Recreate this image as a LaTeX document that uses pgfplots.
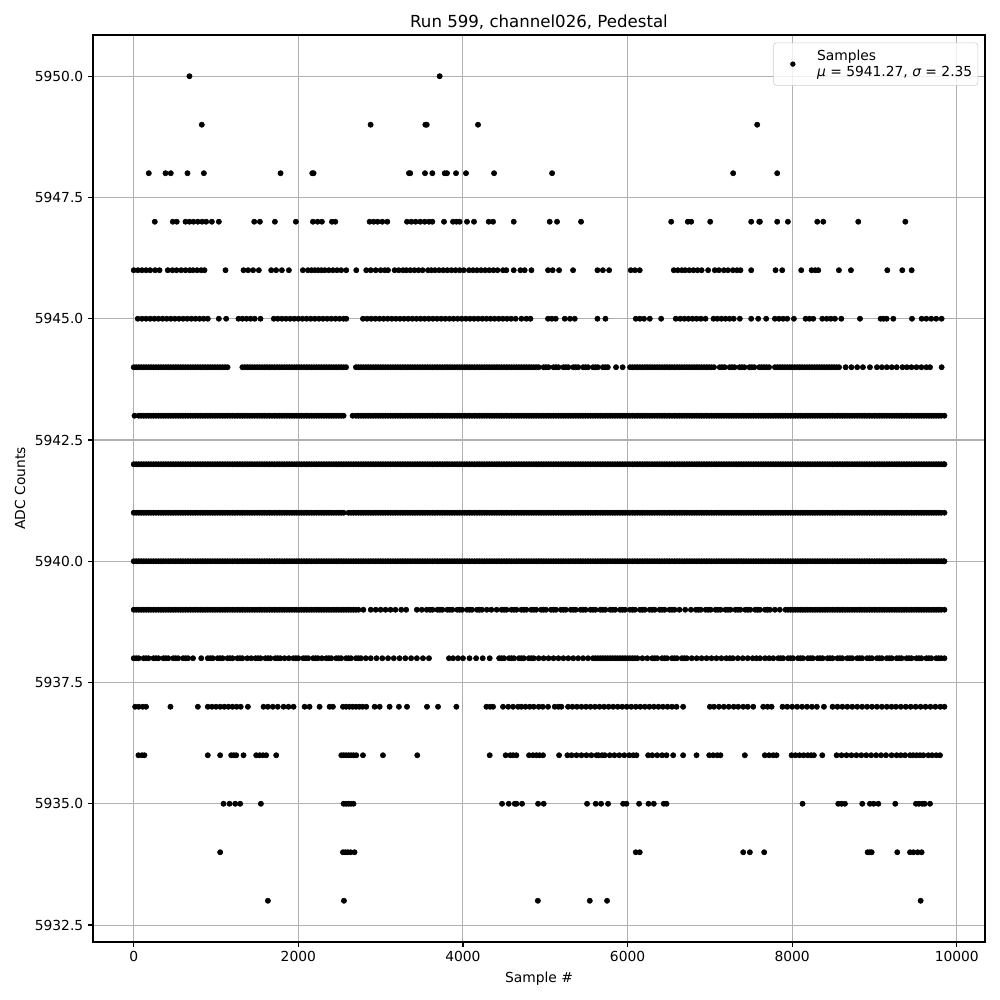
\documentclass[border=0pt]{standalone}
\usepackage{fontspec}
\setmainfont{DejaVu Sans}
\usepackage{pgfplots}
\pgfplotsset{compat=1.18}
\definecolor{gridgray}{HTML}{B0B0B0}
\definecolor{legframe}{HTML}{CCCCCC}
\pgfplotsset{samp/.style={only marks, mark=*, mark size=1.9pt, black, mark options={draw=black, fill=black}}}

\begin{document}
\begin{tikzpicture}
\begin{axis}[
  scale only axis,
  width=644.65pt, height=655.49pt,
  xmin=-495, xmax=10343,
  ymin=5932.15, ymax=5950.85,
  xtick={0,2000,4000,6000,8000,10000},
  ytick={5932.5,5935,5937.5,5940,5942.5,5945,5947.5,5950},
  scaled ticks=false,
  /pgf/number format/1000 sep={},
  /pgf/number format/assume math mode=true,
  yticklabel style={/pgf/number format/.cd, fixed, fixed zerofill, precision=1},
  xticklabel style={/pgf/number format/.cd, fixed, precision=0},
  tick label style={font=\fontsize{10}{12}\selectfont},
  label style={font=\fontsize{10}{12}\selectfont},
  title style={font=\fontsize{12}{14}\selectfont, yshift=-5.5pt},
  title={Run 599, channel026, Pedestal},
  xlabel={Sample \#},
  ylabel={ADC Counts},
  grid=major,
  major grid style={gridgray, line width=0.75pt},
  axis line style={line width=0.8pt},
  tick align=outside,
  xtick pos=left, ytick pos=left,
  major tick length=3.5pt,
  tick style={black, line width=0.8pt},
  legend image code/.code={
    \path (0pt,0pt) (27pt,0pt);
    \draw[#1, mark size=1.7pt, fill opacity=1, draw opacity=1] plot coordinates {(11.7pt,0pt)};
  },
  legend style={at={(1,1)}, anchor=north east, xshift=-5pt, yshift=-5.5pt,
    draw=legframe, rounded corners=2pt, fill=white, fill opacity=0.8, text opacity=1,
    font=\fontsize{10}{11.6}\selectfont, inner xsep=2pt, inner ysep=3pt,
    cells={align=left, anchor=west}},
]
% 5950 .. 5947
\addplot[samp, forget plot] coordinates {(677,5950)(3717,5950)};
\addplot[samp, forget plot] coordinates {(827,5949)(2878,5949)(3543,5949)(3560,5949)(4183,5949)(7575,5949)};
\addplot[samp, forget plot] coordinates {
(183,5948)(386,5948)(450,5948)(653,5948)(852,5948)(1784,5948)(2169,5948)(2185,5948)
(3344,5948)(3360,5948)(3539,5948)(3628,5948)(3778,5948)(3806,5948)(3916,5948)(4037,5948)
(4378,5948)(5083,5948)(7283,5948)(7818,5948)};
\addplot[samp, forget plot] coordinates {
(256,5947)(475,5947)(523,5947)(629,5947)(677,5947)(726,5947)(779,5947)(831,5947)(880,5947)
(949,5947)(1034,5947)(1464,5947)(1533,5947)(1715,5947)(1970,5947)(2177,5947)(2234,5947)
(2286,5947)(2408,5947)(2449,5947)(2866,5947)(2915,5947)(2963,5947)(3020,5947)(3081,5947)
(3320,5947)(3373,5947)(3425,5947)(3482,5947)(3535,5947)(3587,5947)(3628,5947)(3770,5947)
(3879,5947)(3920,5947)(3960,5947)(4049,5947)(4134,5947)(4313,5947)(4366,5947)(4617,5947)
(5054,5947)(5143,5947)(5435,5947)(6530,5947)(6732,5947)(6773,5947)(7004,5947)(7502,5947)
(7600,5947)(7608,5947)(7818,5947)(7948,5947)(8305,5947)(8378,5947)(8803,5947)(9375,5947)};
% 5946
\addplot[samp, forget plot] coordinates {
(0,5946)(50,5946)(100,5946)(150,5946)(200,5946)(260,5946)(313,5946)
(414,5946)(470,5946)(520,5946)(576,5946)
(629,5946)(680,5946)(720,5946)(770,5946)(820,5946)(860,5946)(1115,5946)
(1334,5946)(1390,5946)(1450,5946)(1520,5946)(1670,5946)(1730,5946)(1800,5946)(1885,5946)
(2055,5946)(2116,5946)(2160,5946)(2200,5946)(2240,5946)(2280,5946)(2320,5946)(2370,5946)
(2420,5946)(2470,5946)(2520,5946)(2582,5946)(2704,5946)
(2825,5946)(2880,5946)(2940,5946)(3000,5946)(3050,5946)(3089,5946)(3170,5946)(3220,5946)(3271,5946)
(3312,5946)(3360,5946)(3410,5946)(3460,5946)(3510,5946)(3575,5946)
(3616,5946)(3660,5946)(3710,5946)(3760,5946)(3810,5946)(3860,5946)(3910,5946)(3960,5946)(4010,5946)(4074,5946)
(4122,5946)(4170,5946)(4220,5946)(4270,5946)(4320,5946)(4370,5946)(4420,5946)(4487,5946)
(4527,5946)(4617,5946)(4698,5946)(4750,5946)(4832,5946)
(5034,5946)(5090,5946)(5168,5946)(5338,5946)(5634,5946)(5700,5946)(5776,5946)
(6039,5946)(6090,5946)(6148,5946)
(6562,5946)(6610,5946)(6660,5946)(6700,5946)(6750,5946)(6800,5946)(6850,5946)(6900,5946)(6979,5946)
(7060,5946)(7110,5946)(7170,5946)(7220,5946)(7280,5946)(7330,5946)(7372,5946)(7502,5946)
(7798,5946)(7879,5946)(8110,5946)(8236,5946)(8280,5946)(8317,5946)(8568,5946)(8714,5946)
(9156,5946)(9338,5946)(9452,5946)};
% 5945
\addplot[samp, forget plot] coordinates {
(49,5945)(100,5945)(150,5945)(200,5945)(250,5945)(300,5945)(350,5945)(400,5945)(450,5945)
(500,5945)(550,5945)(600,5945)(650,5945)(700,5945)(750,5945)(800,5945)(850,5945)(900,5945)
(1034,5945)(1123,5945)(1273,5945)(1320,5945)(1370,5945)(1420,5945)(1470,5945)(1540,5945)
(1702,5945)(1750,5945)(1800,5945)(1850,5945)(1900,5945)(1950,5945)(2000,5945)(2050,5945)
(2100,5945)(2150,5945)(2200,5945)(2250,5945)(2300,5945)(2350,5945)(2400,5945)(2450,5945)
(2500,5945)(2550,5945)(2582,5945)
(2785,5945)(2835,5945)(2885,5945)(2935,5945)(2985,5945)(3035,5945)(3085,5945)(3135,5945)
(3185,5945)(3235,5945)(3285,5945)(3335,5945)(3385,5945)(3435,5945)(3485,5945)(3535,5945)
(3585,5945)(3635,5945)(3685,5945)(3735,5945)(3785,5945)(3835,5945)(3885,5945)(3935,5945)
(3985,5945)(4035,5945)(4085,5945)(4135,5945)(4185,5945)(4235,5945)(4285,5945)(4335,5945)
(4385,5945)(4435,5945)(4485,5945)(4535,5945)(4585,5945)(4640,5945)
(4710,5945)(4770,5945)(4820,5945)(5034,5945)(5080,5945)(5127,5945)(5237,5945)(5300,5945)(5358,5945)
(5634,5945)(5731,5945)(6100,5945)(6150,5945)(6200,5945)(6270,5945)(6408,5945)
(6586,5945)(6640,5945)(6690,5945)(6740,5945)(6790,5945)(6840,5945)(6890,5945)(6947,5945)
(7044,5945)(7090,5945)(7140,5945)(7190,5945)(7240,5945)(7290,5945)(7364,5945)
(7502,5945)(7587,5945)(7684,5945)(7790,5945)(7840,5945)(7890,5945)(7940,5945)(8021,5945)
(8163,5945)(8210,5945)(8256,5945)(8366,5945)(8420,5945)(8470,5945)(8520,5945)(8597,5945)
(8824,5945)(9075,5945)(9110,5945)(9148,5945)(9229,5945)(9456,5945)
(9573,5945)(9630,5945)(9690,5945)(9750,5945)(9816,5945)};
% 5944
\addplot[samp, forget plot] coordinates {
(0,5944)(60,5944)(120,5944)(180,5944)(240,5944)(300,5944)(360,5944)(420,5944)(480,5944)
(540,5944)(600,5944)(660,5944)(720,5944)(780,5944)(840,5944)(900,5944)(960,5944)(1020,5944)
(1080,5944)(1140,5944)
(1320,5944)(1380,5944)(1440,5944)(1500,5944)(1560,5944)(1620,5944)(1680,5944)(1740,5944)
(1800,5944)(1860,5944)(1920,5944)(1980,5944)(2040,5944)(2100,5944)(2160,5944)(2220,5944)
(2280,5944)(2340,5944)(2400,5944)(2460,5944)(2520,5944)(2580,5944)
(2700,5944)(2760,5944)(2820,5944)(2880,5944)(2940,5944)(3000,5944)(3060,5944)(3120,5944)
(3180,5944)(3240,5944)(3300,5944)(3360,5944)(3420,5944)(3480,5944)(3540,5944)(3600,5944)
(3660,5944)(3720,5944)(3780,5944)(3840,5944)(3900,5944)(3960,5944)(4020,5944)(4080,5944)
(4140,5944)(4200,5944)(4260,5944)(4320,5944)(4380,5944)(4440,5944)(4500,5944)(4560,5944)
(4620,5944)(4680,5944)(4740,5944)(4800,5944)(4860,5944)(4920,5944)(4980,5944)(5040,5944)
(5100,5944)(5160,5944)(5220,5944)(5280,5944)(5340,5944)(5400,5944)(5460,5944)(5520,5944)
(5580,5944)(5640,5944)(5700,5944)(5760,5944)(5860,5944)(5940,5944)
(6030,5944)(6090,5944)(6150,5944)(6210,5944)(6270,5944)(6330,5944)(6390,5944)(6450,5944)
(6510,5944)(6570,5944)(6630,5944)(6690,5944)(6750,5944)(6810,5944)(6870,5944)(6930,5944)
(6990,5944)(7050,5944)
(7120,5944)(7180,5944)(7240,5944)(7300,5944)(7360,5944)(7420,5944)(7480,5944)(7540,5944)
(7600,5944)(7660,5944)(7720,5944)
(7790,5944)(7850,5944)(7910,5944)(7970,5944)(8030,5944)(8090,5944)(8150,5944)(8210,5944)
(8270,5944)(8330,5944)(8390,5944)(8450,5944)(8510,5944)(8570,5944)(8650,5944)(8720,5944)
(8790,5944)(8860,5944)(8945,5944)
(9030,5944)(9090,5944)(9150,5944)(9210,5944)(9270,5944)(9340,5944)
(9395,5944)(9450,5944)(9510,5944)(9570,5944)(9630,5944)(9675,5944)(9816,5944)};
\addplot[samp, forget plot] coordinates {
(30,5944)(90,5944)(150,5944)(210,5944)(270,5944)(330,5944)(390,5944)(450,5944)(510,5944)
(570,5944)(630,5944)(690,5944)(750,5944)(810,5944)(870,5944)(930,5944)(990,5944)(1050,5944)
(1110,5944)(1350,5944)(1410,5944)(1470,5944)(1530,5944)(1590,5944)(1650,5944)(1710,5944)
(1770,5944)(1830,5944)(1890,5944)(1950,5944)(2010,5944)(2070,5944)(2130,5944)(2190,5944)
(2250,5944)(2310,5944)(2370,5944)(2430,5944)(2490,5944)(2550,5944)
(2730,5944)(2790,5944)(2850,5944)(2910,5944)(2970,5944)(3030,5944)(3090,5944)(3150,5944)
(3210,5944)(3270,5944)(3330,5944)(3390,5944)(3450,5944)(3510,5944)(3570,5944)(3630,5944)
(3690,5944)(3750,5944)(3810,5944)(3870,5944)(3930,5944)(3990,5944)(4050,5944)(4110,5944)
(4170,5944)(4230,5944)(4290,5944)(4350,5944)(4410,5944)(4470,5944)(4530,5944)(4590,5944)
(4650,5944)(4710,5944)(4770,5944)(4830,5944)(4890,5944)(5010,5944)(5130,5944)(5250,5944)
(5370,5944)(5490,5944)(5610,5944)(5730,5944)
(6060,5944)(6120,5944)(6180,5944)(6240,5944)(6300,5944)(6360,5944)(6420,5944)(6480,5944)
(6540,5944)(6600,5944)(6660,5944)(6720,5944)(6780,5944)(6840,5944)(6900,5944)(6960,5944)
(7020,5944)(7150,5944)(7270,5944)(7390,5944)(7510,5944)(7630,5944)(7690,5944)
(7820,5944)(7880,5944)(7940,5944)(8000,5944)(8060,5944)(8120,5944)(8180,5944)(8240,5944)
(8300,5944)(8360,5944)(8420,5944)(8480,5944)(8540,5944)};
% 5943
\addplot[samp, forget plot] coordinates {
(10,5943)(90,5943)(150,5943)(210,5943)(270,5943)(330,5943)(390,5943)(450,5943)(510,5943)
(570,5943)(630,5943)(690,5943)(750,5943)(810,5943)(870,5943)(930,5943)(990,5943)(1050,5943)
(1110,5943)(1170,5943)(1230,5943)(1290,5943)(1350,5943)(1410,5943)(1470,5943)(1530,5943)
(1590,5943)(1650,5943)(1710,5943)(1770,5943)(1830,5943)(1890,5943)(1950,5943)(2010,5943)
(2070,5943)(2130,5943)(2190,5943)(2250,5943)(2310,5943)(2370,5943)(2430,5943)(2490,5943)
(2550,5943)
(2660,5943)(2730,5943)(2790,5943)(2850,5943)(2910,5943)(2970,5943)(3030,5943)(3090,5943)
(3150,5943)(3210,5943)(3270,5943)(3330,5943)(3390,5943)(3450,5943)(3510,5943)(3570,5943)
(3630,5943)(3690,5943)(3750,5943)(3810,5943)(3870,5943)(3930,5943)(3990,5943)(4050,5943)
(4110,5943)(4170,5943)(4230,5943)(4290,5943)(4350,5943)(4410,5943)(4470,5943)(4530,5943)
(4590,5943)(4650,5943)(4710,5943)(4770,5943)(4830,5943)(4890,5943)(4950,5943)(5010,5943)
(5070,5943)(5130,5943)(5190,5943)(5250,5943)(5310,5943)(5370,5943)(5430,5943)(5490,5943)
(5550,5943)(5610,5943)(5670,5943)(5730,5943)(5790,5943)(5850,5943)(5910,5943)(5970,5943)
(6030,5943)(6090,5943)(6150,5943)(6210,5943)(6270,5943)(6330,5943)(6390,5943)(6450,5943)
(6510,5943)(6570,5943)(6630,5943)(6690,5943)(6750,5943)(6810,5943)(6870,5943)(6930,5943)
(6990,5943)(7050,5943)(7110,5943)(7170,5943)(7230,5943)(7290,5943)(7350,5943)(7410,5943)
(7470,5943)(7530,5943)(7590,5943)(7650,5943)(7710,5943)(7770,5943)(7830,5943)(7890,5943)
(7950,5943)(8010,5943)(8070,5943)(8130,5943)(8190,5943)(8250,5943)(8310,5943)(8370,5943)
(8430,5943)(8490,5943)(8550,5943)(8610,5943)(8670,5943)(8730,5943)(8790,5943)(8850,5943)
(8910,5943)(8970,5943)(9030,5943)(9090,5943)(9150,5943)(9210,5943)(9270,5943)(9330,5943)
(9390,5943)(9450,5943)(9510,5943)(9570,5943)(9630,5943)(9690,5943)(9750,5943)(9810,5943)
(9850,5943)};
\addplot[samp, forget plot] coordinates {
(60,5943)(120,5943)(180,5943)(240,5943)(300,5943)(360,5943)(420,5943)(480,5943)
(540,5943)(600,5943)(660,5943)(720,5943)(780,5943)(840,5943)(900,5943)(960,5943)(1020,5943)
(1080,5943)(1140,5943)(1200,5943)(1260,5943)(1320,5943)(1380,5943)(1440,5943)(1500,5943)
(1560,5943)(1620,5943)(1680,5943)(1740,5943)(1800,5943)(1860,5943)(1920,5943)(1980,5943)
(2040,5943)(2100,5943)(2160,5943)(2220,5943)(2280,5943)(2340,5943)(2400,5943)(2460,5943)
(2520,5943)(2700,5943)(2760,5943)(2820,5943)(2880,5943)(2940,5943)
(3000,5943)(3060,5943)(3120,5943)(3180,5943)(3240,5943)(3300,5943)(3360,5943)(3420,5943)
(3480,5943)(3540,5943)(3600,5943)(3660,5943)(3720,5943)(3780,5943)(3840,5943)(3900,5943)
(3960,5943)(4020,5943)(4080,5943)(4140,5943)(4200,5943)(4260,5943)(4320,5943)(4380,5943)
(4440,5943)(4500,5943)(4560,5943)(4620,5943)(4680,5943)(4740,5943)(4800,5943)(4860,5943)
(4920,5943)(4980,5943)(5040,5943)(5100,5943)(5160,5943)(5220,5943)(5280,5943)(5340,5943)
(5400,5943)(5460,5943)(5520,5943)(5580,5943)(5640,5943)(5700,5943)(5760,5943)(5820,5943)
(5880,5943)(5940,5943)(6000,5943)(6060,5943)(6120,5943)(6180,5943)(6240,5943)(6300,5943)
(6360,5943)(6420,5943)(6480,5943)(6540,5943)(6600,5943)(6660,5943)(6720,5943)(6780,5943)
(6840,5943)(6900,5943)(6960,5943)(7020,5943)(7080,5943)(7140,5943)(7200,5943)(7260,5943)
(7320,5943)(7380,5943)(7440,5943)(7500,5943)(7560,5943)(7620,5943)(7680,5943)(7740,5943)
(7800,5943)(7860,5943)(7920,5943)(7980,5943)(8040,5943)(8100,5943)(8160,5943)(8220,5943)
(8280,5943)(8340,5943)(8400,5943)(8460,5943)(8520,5943)(8580,5943)(8640,5943)(8700,5943)
(8760,5943)(8820,5943)(8880,5943)(8940,5943)(9000,5943)(9060,5943)(9120,5943)(9180,5943)
(9240,5943)(9300,5943)(9360,5943)(9420,5943)(9480,5943)(9540,5943)(9600,5943)(9660,5943)
(9720,5943)(9780,5943)};
% 5942
\addplot[samp, forget plot] coordinates {
(0,5942)(60,5942)(120,5942)(180,5942)(240,5942)(300,5942)(360,5942)(420,5942)(480,5942)
(540,5942)(600,5942)(660,5942)(720,5942)(780,5942)(840,5942)(900,5942)(960,5942)(1020,5942)
(1080,5942)(1140,5942)(1200,5942)(1260,5942)(1320,5942)(1380,5942)(1440,5942)(1500,5942)
(1560,5942)(1620,5942)(1680,5942)(1740,5942)(1800,5942)(1860,5942)(1920,5942)(1980,5942)
(2040,5942)(2100,5942)(2160,5942)(2220,5942)(2280,5942)(2340,5942)(2400,5942)(2460,5942)
(2520,5942)(2580,5942)(2640,5942)(2700,5942)(2760,5942)(2820,5942)(2880,5942)(2940,5942)
(3000,5942)(3060,5942)(3120,5942)(3180,5942)(3240,5942)(3300,5942)(3360,5942)(3420,5942)
(3480,5942)(3540,5942)(3600,5942)(3660,5942)(3720,5942)(3780,5942)(3840,5942)(3900,5942)
(3960,5942)(4020,5942)(4080,5942)(4140,5942)(4200,5942)(4260,5942)(4320,5942)(4380,5942)
(4440,5942)(4500,5942)(4560,5942)(4620,5942)(4680,5942)(4740,5942)(4800,5942)(4860,5942)
(4920,5942)(4980,5942)(5040,5942)(5100,5942)(5160,5942)(5220,5942)(5280,5942)(5340,5942)
(5400,5942)(5460,5942)(5520,5942)(5580,5942)(5640,5942)(5700,5942)(5760,5942)(5820,5942)
(5880,5942)(5940,5942)(6000,5942)(6060,5942)(6120,5942)(6180,5942)(6240,5942)(6300,5942)
(6360,5942)(6420,5942)(6480,5942)(6540,5942)(6600,5942)(6660,5942)(6720,5942)(6780,5942)
(6840,5942)(6900,5942)(6960,5942)(7020,5942)(7080,5942)(7140,5942)(7200,5942)(7260,5942)
(7320,5942)(7380,5942)(7440,5942)(7500,5942)(7560,5942)(7620,5942)(7680,5942)(7740,5942)
(7800,5942)(7860,5942)(7920,5942)(7980,5942)(8040,5942)(8100,5942)(8160,5942)(8220,5942)
(8280,5942)(8340,5942)(8400,5942)(8460,5942)(8520,5942)(8580,5942)(8640,5942)(8700,5942)
(8760,5942)(8820,5942)(8880,5942)(8940,5942)(9000,5942)(9060,5942)(9120,5942)(9180,5942)
(9240,5942)(9300,5942)(9360,5942)(9420,5942)(9480,5942)(9540,5942)(9600,5942)(9660,5942)
(9720,5942)(9780,5942)(9840,5942)};
\addplot[samp, forget plot] coordinates {
(30,5942)(90,5942)(150,5942)(210,5942)(270,5942)(330,5942)(390,5942)(450,5942)(510,5942)
(570,5942)(630,5942)(690,5942)(750,5942)(810,5942)(870,5942)(930,5942)(990,5942)(1050,5942)
(1110,5942)(1170,5942)(1230,5942)(1290,5942)(1350,5942)(1410,5942)(1470,5942)(1530,5942)
(1590,5942)(1650,5942)(1710,5942)(1770,5942)(1830,5942)(1890,5942)(1950,5942)(2010,5942)
(2070,5942)(2130,5942)(2190,5942)(2250,5942)(2310,5942)(2370,5942)(2430,5942)(2490,5942)
(2550,5942)(2610,5942)(2670,5942)(2730,5942)(2790,5942)(2850,5942)(2910,5942)(2970,5942)
(3030,5942)(3090,5942)(3150,5942)(3210,5942)(3270,5942)(3330,5942)(3390,5942)(3450,5942)
(3510,5942)(3570,5942)(3630,5942)(3690,5942)(3750,5942)(3810,5942)(3870,5942)(3930,5942)
(3990,5942)(4050,5942)(4110,5942)(4170,5942)(4230,5942)(4290,5942)(4350,5942)(4410,5942)
(4470,5942)(4530,5942)(4590,5942)(4650,5942)(4710,5942)(4770,5942)(4830,5942)(4890,5942)
(4950,5942)(5010,5942)(5070,5942)(5130,5942)(5190,5942)(5250,5942)(5310,5942)(5370,5942)
(5430,5942)(5490,5942)(5550,5942)(5610,5942)(5670,5942)(5730,5942)(5790,5942)(5850,5942)
(5910,5942)(5970,5942)(6030,5942)(6090,5942)(6150,5942)(6210,5942)(6270,5942)(6330,5942)
(6390,5942)(6450,5942)(6510,5942)(6570,5942)(6630,5942)(6690,5942)(6750,5942)(6810,5942)
(6870,5942)(6930,5942)(6990,5942)(7050,5942)(7110,5942)(7170,5942)(7230,5942)(7290,5942)
(7350,5942)(7410,5942)(7470,5942)(7530,5942)(7590,5942)(7650,5942)(7710,5942)(7770,5942)
(7830,5942)(7890,5942)(7950,5942)(8010,5942)(8070,5942)(8130,5942)(8190,5942)(8250,5942)
(8310,5942)(8370,5942)(8430,5942)(8490,5942)(8550,5942)(8610,5942)(8670,5942)(8730,5942)
(8790,5942)(8850,5942)(8910,5942)(8970,5942)(9030,5942)(9090,5942)(9150,5942)(9210,5942)
(9270,5942)(9330,5942)(9390,5942)(9450,5942)(9510,5942)(9570,5942)(9630,5942)(9690,5942)
(9750,5942)(9810,5942)(9850,5942)};
% 5941
\addplot[samp, forget plot] coordinates {
(0,5941)(30,5941)(90,5941)(150,5941)(210,5941)(270,5941)(330,5941)(390,5941)(450,5941)(510,5941)
(570,5941)(630,5941)(690,5941)(750,5941)(810,5941)(870,5941)(930,5941)(990,5941)(1050,5941)
(1110,5941)(1170,5941)(1230,5941)(1290,5941)(1350,5941)(1410,5941)(1470,5941)(1530,5941)
(1590,5941)(1650,5941)(1710,5941)(1770,5941)(1830,5941)(1890,5941)(1950,5941)(2010,5941)
(2070,5941)(2130,5941)(2190,5941)(2250,5941)(2310,5941)(2370,5941)(2430,5941)(2490,5941)
(2550,5941)(2610,5941)(2670,5941)(2730,5941)(2790,5941)(2850,5941)(2910,5941)(2970,5941)
(3030,5941)(3090,5941)(3150,5941)(3210,5941)(3270,5941)(3330,5941)(3390,5941)(3450,5941)
(3510,5941)(3570,5941)(3630,5941)(3690,5941)(3750,5941)(3810,5941)(3870,5941)(3930,5941)
(3990,5941)(4050,5941)(4110,5941)(4170,5941)(4230,5941)(4290,5941)(4350,5941)(4410,5941)
(4470,5941)(4530,5941)(4590,5941)(4650,5941)(4710,5941)(4770,5941)(4830,5941)(4890,5941)
(4950,5941)(5010,5941)(5070,5941)(5130,5941)(5190,5941)(5250,5941)(5310,5941)(5370,5941)
(5430,5941)(5490,5941)(5550,5941)(5610,5941)(5670,5941)(5730,5941)(5790,5941)(5850,5941)
(5910,5941)(5970,5941)(6030,5941)(6090,5941)(6150,5941)(6210,5941)(6270,5941)(6330,5941)
(6390,5941)(6450,5941)(6510,5941)(6570,5941)(6630,5941)(6690,5941)(6750,5941)(6810,5941)
(6870,5941)(6930,5941)(6990,5941)(7050,5941)(7110,5941)(7170,5941)(7230,5941)(7290,5941)
(7350,5941)(7410,5941)(7470,5941)(7530,5941)(7590,5941)(7650,5941)(7710,5941)(7770,5941)
(7830,5941)(7890,5941)(7950,5941)(8010,5941)(8070,5941)(8130,5941)(8190,5941)(8250,5941)
(8310,5941)(8370,5941)(8430,5941)(8490,5941)(8550,5941)(8610,5941)(8670,5941)(8730,5941)
(8790,5941)(8850,5941)(8910,5941)(8970,5941)(9030,5941)(9090,5941)(9150,5941)(9210,5941)
(9270,5941)(9330,5941)(9390,5941)(9450,5941)(9510,5941)(9570,5941)(9630,5941)(9690,5941)
(9750,5941)(9810,5941)(9850,5941)};
\addplot[samp, forget plot] coordinates {
(60,5941)(120,5941)(180,5941)(240,5941)(300,5941)(360,5941)(420,5941)(480,5941)
(540,5941)(600,5941)(660,5941)(720,5941)(780,5941)(840,5941)(900,5941)(960,5941)(1020,5941)
(1080,5941)(1140,5941)(1200,5941)(1260,5941)(1320,5941)(1380,5941)(1440,5941)(1500,5941)
(1560,5941)(1620,5941)(1680,5941)(1740,5941)(1800,5941)(1860,5941)(1920,5941)(1980,5941)
(2040,5941)(2100,5941)(2160,5941)(2220,5941)(2280,5941)(2340,5941)(2400,5941)(2460,5941)
(2520,5941)(2640,5941)(2700,5941)(2760,5941)(2820,5941)(2880,5941)(2940,5941)
(3000,5941)(3060,5941)(3120,5941)(3180,5941)(3240,5941)(3300,5941)(3360,5941)(3420,5941)
(3480,5941)(3540,5941)(3600,5941)(3660,5941)(3720,5941)(3780,5941)(3840,5941)(3900,5941)
(3960,5941)(4020,5941)(4080,5941)(4140,5941)(4200,5941)(4260,5941)(4320,5941)(4380,5941)
(4440,5941)(4500,5941)(4560,5941)(4620,5941)(4680,5941)(4740,5941)(4800,5941)(4860,5941)
(4920,5941)(4980,5941)(5040,5941)(5100,5941)(5160,5941)(5220,5941)(5280,5941)(5340,5941)
(5400,5941)(5460,5941)(5520,5941)(5580,5941)(5640,5941)(5700,5941)(5760,5941)(5820,5941)
(5880,5941)(5940,5941)(6000,5941)(6060,5941)(6120,5941)(6180,5941)(6240,5941)(6300,5941)
(6360,5941)(6420,5941)(6480,5941)(6540,5941)(6600,5941)(6660,5941)(6720,5941)(6780,5941)
(6840,5941)(6900,5941)(6960,5941)(7020,5941)(7080,5941)(7140,5941)(7200,5941)(7260,5941)
(7320,5941)(7380,5941)(7440,5941)(7500,5941)(7560,5941)(7620,5941)(7680,5941)(7740,5941)
(7800,5941)(7860,5941)(7920,5941)(7980,5941)(8040,5941)(8100,5941)(8160,5941)(8220,5941)
(8280,5941)(8340,5941)(8400,5941)(8460,5941)(8520,5941)(8580,5941)(8640,5941)(8700,5941)
(8760,5941)(8820,5941)(8880,5941)(8940,5941)(9000,5941)(9060,5941)(9120,5941)(9180,5941)
(9240,5941)(9300,5941)(9360,5941)(9420,5941)(9480,5941)(9540,5941)(9600,5941)(9660,5941)
(9720,5941)(9780,5941)};
% 5940
\addplot[samp, forget plot] coordinates {
(0,5940)(60,5940)(120,5940)(180,5940)(240,5940)(300,5940)(360,5940)(420,5940)(480,5940)
(540,5940)(600,5940)(660,5940)(720,5940)(780,5940)(840,5940)(900,5940)(960,5940)(1020,5940)
(1080,5940)(1140,5940)(1200,5940)(1260,5940)(1320,5940)(1380,5940)(1440,5940)(1500,5940)
(1560,5940)(1620,5940)(1680,5940)(1740,5940)(1800,5940)(1860,5940)(1920,5940)(1980,5940)
(2040,5940)(2100,5940)(2160,5940)(2220,5940)(2280,5940)(2340,5940)(2400,5940)(2460,5940)
(2520,5940)(2580,5940)(2640,5940)(2700,5940)(2760,5940)(2820,5940)(2880,5940)(2940,5940)
(3000,5940)(3060,5940)(3120,5940)(3180,5940)(3240,5940)(3300,5940)(3360,5940)(3420,5940)
(3480,5940)(3540,5940)(3600,5940)(3660,5940)(3720,5940)(3780,5940)(3840,5940)(3900,5940)
(3960,5940)(4020,5940)(4080,5940)(4140,5940)(4200,5940)(4260,5940)(4320,5940)(4380,5940)
(4440,5940)(4500,5940)(4560,5940)(4620,5940)(4680,5940)(4740,5940)(4800,5940)(4860,5940)
(4920,5940)(4980,5940)(5040,5940)(5100,5940)(5160,5940)(5220,5940)(5280,5940)(5340,5940)
(5400,5940)(5460,5940)(5520,5940)(5580,5940)(5640,5940)(5700,5940)(5760,5940)(5820,5940)
(5880,5940)(5940,5940)(6000,5940)(6060,5940)(6120,5940)(6180,5940)(6240,5940)(6300,5940)
(6360,5940)(6420,5940)(6480,5940)(6540,5940)(6600,5940)(6660,5940)(6720,5940)(6780,5940)
(6840,5940)(6900,5940)(6960,5940)(7020,5940)(7080,5940)(7140,5940)(7200,5940)(7260,5940)
(7320,5940)(7380,5940)(7440,5940)(7500,5940)(7560,5940)(7620,5940)(7680,5940)(7740,5940)
(7800,5940)(7860,5940)(7920,5940)(7980,5940)(8040,5940)(8100,5940)(8160,5940)(8220,5940)
(8280,5940)(8340,5940)(8400,5940)(8460,5940)(8520,5940)(8580,5940)(8640,5940)(8700,5940)
(8760,5940)(8820,5940)(8880,5940)(8940,5940)(9000,5940)(9060,5940)(9120,5940)(9180,5940)
(9240,5940)(9300,5940)(9360,5940)(9420,5940)(9480,5940)(9540,5940)(9600,5940)(9660,5940)
(9720,5940)(9780,5940)(9840,5940)};
\addplot[samp, forget plot] coordinates {
(30,5940)(90,5940)(150,5940)(210,5940)(270,5940)(330,5940)(390,5940)(450,5940)(510,5940)
(570,5940)(630,5940)(690,5940)(750,5940)(810,5940)(870,5940)(930,5940)(990,5940)(1050,5940)
(1110,5940)(1170,5940)(1230,5940)(1290,5940)(1350,5940)(1410,5940)(1470,5940)(1530,5940)
(1590,5940)(1650,5940)(1710,5940)(1770,5940)(1830,5940)(1890,5940)(1950,5940)(2010,5940)
(2070,5940)(2130,5940)(2190,5940)(2250,5940)(2310,5940)(2370,5940)(2430,5940)(2490,5940)
(2550,5940)(2610,5940)(2670,5940)(2730,5940)(2790,5940)(2850,5940)(2910,5940)(2970,5940)
(3030,5940)(3090,5940)(3150,5940)(3210,5940)(3270,5940)(3330,5940)(3390,5940)(3450,5940)
(3510,5940)(3570,5940)(3630,5940)(3690,5940)(3750,5940)(3810,5940)(3870,5940)(3930,5940)
(3990,5940)(4050,5940)(4110,5940)(4170,5940)(4230,5940)(4290,5940)(4350,5940)(4410,5940)
(4470,5940)(4530,5940)(4590,5940)(4650,5940)(4710,5940)(4770,5940)(4830,5940)(4890,5940)
(4950,5940)(5010,5940)(5070,5940)(5130,5940)(5190,5940)(5250,5940)(5310,5940)(5370,5940)
(5430,5940)(5490,5940)(5550,5940)(5610,5940)(5670,5940)(5730,5940)(5790,5940)(5850,5940)
(5910,5940)(5970,5940)(6030,5940)(6090,5940)(6150,5940)(6210,5940)(6270,5940)(6330,5940)
(6390,5940)(6450,5940)(6510,5940)(6570,5940)(6630,5940)(6690,5940)(6750,5940)(6810,5940)
(6870,5940)(6930,5940)(6990,5940)(7050,5940)(7110,5940)(7170,5940)(7230,5940)(7290,5940)
(7350,5940)(7410,5940)(7470,5940)(7530,5940)(7590,5940)(7650,5940)(7710,5940)(7770,5940)
(7830,5940)(7890,5940)(7950,5940)(8010,5940)(8070,5940)(8130,5940)(8190,5940)(8250,5940)
(8310,5940)(8370,5940)(8430,5940)(8490,5940)(8550,5940)(8610,5940)(8670,5940)(8730,5940)
(8790,5940)(8850,5940)(8910,5940)(8970,5940)(9030,5940)(9090,5940)(9150,5940)(9210,5940)
(9270,5940)(9330,5940)(9390,5940)(9450,5940)(9510,5940)(9570,5940)(9630,5940)(9690,5940)
(9750,5940)(9810,5940)(9850,5940)};
% 5939
\addplot[samp, forget plot] coordinates {
(0,5939)(30,5939)(90,5939)(150,5939)(210,5939)(270,5939)(330,5939)(390,5939)(450,5939)(510,5939)
(570,5939)(630,5939)(690,5939)(750,5939)(810,5939)(870,5939)(930,5939)(990,5939)(1050,5939)
(1110,5939)(1170,5939)(1230,5939)(1290,5939)(1350,5939)(1410,5939)(1470,5939)(1530,5939)
(1590,5939)(1650,5939)(1710,5939)(1770,5939)(1830,5939)(1890,5939)(1950,5939)(2010,5939)
(2070,5939)(2130,5939)(2190,5939)(2250,5939)(2310,5939)(2370,5939)(2430,5939)(2490,5939)
(2550,5939)(2610,5939)(2670,5939)(2730,5939)(2790,5939)(2880,5939)(2940,5939)(3000,5939)
(3060,5939)(3120,5939)(3180,5939)(3250,5939)(3310,5939)(3440,5939)(3500,5939)
(3560,5939)(3630,5939)(3690,5939)(3750,5939)(3810,5939)(3870,5939)(3930,5939)
(3990,5939)(4050,5939)(4110,5939)(4170,5939)(4230,5939)(4290,5939)(4345,5939)(4410,5939)
(4470,5939)(4530,5939)(4590,5939)(4650,5939)(4710,5939)(4770,5939)(4830,5939)(4890,5939)
(4950,5939)(5010,5939)(5070,5939)(5130,5939)(5190,5939)(5250,5939)(5310,5939)(5370,5939)
(5430,5939)(5490,5939)(5550,5939)(5610,5939)(5670,5939)(5730,5939)(5790,5939)(5850,5939)
(5910,5939)(5970,5939)(6030,5939)(6090,5939)(6150,5939)(6210,5939)(6270,5939)(6330,5939)
(6390,5939)(6450,5939)(6510,5939)(6570,5939)(6630,5939)(6700,5939)(6770,5939)(6830,5939)
(6890,5939)(6950,5939)(7010,5939)(7070,5939)(7130,5939)(7190,5939)(7250,5939)(7310,5939)
(7370,5939)(7430,5939)(7490,5939)(7550,5939)(7610,5939)(7670,5939)(7730,5939)(7790,5939)
(7850,5939)(7920,5939)(7980,5939)(8040,5939)(8100,5939)(8160,5939)(8220,5939)(8280,5939)
(8340,5939)(8400,5939)(8460,5939)(8520,5939)(8580,5939)(8640,5939)(8700,5939)(8760,5939)
(8820,5939)(8880,5939)(8940,5939)(9000,5939)(9060,5939)(9120,5939)(9180,5939)(9240,5939)
(9300,5939)(9360,5939)(9420,5939)(9480,5939)(9540,5939)(9600,5939)(9660,5939)(9720,5939)
(9780,5939)(9850,5939)};
\addplot[samp, forget plot] coordinates {
(60,5939)(120,5939)(180,5939)(240,5939)(300,5939)(360,5939)(420,5939)(480,5939)
(540,5939)(600,5939)(660,5939)(720,5939)(780,5939)(840,5939)(900,5939)(960,5939)(1020,5939)
(1080,5939)(1140,5939)(1200,5939)(1260,5939)(1320,5939)(1380,5939)(1440,5939)(1500,5939)
(1560,5939)(1620,5939)(1680,5939)(1740,5939)(1800,5939)(1860,5939)(1920,5939)(1980,5939)
(2040,5939)(2100,5939)(2160,5939)(2220,5939)(2280,5939)(2340,5939)(2400,5939)(2460,5939)
(2520,5939)(2580,5939)(2640,5939)(2700,5939)(3600,5939)(3720,5939)(3840,5939)(3960,5939)
(4080,5939)(4200,5939)(4500,5939)(4620,5939)(4740,5939)(4860,5939)(4980,5939)(5100,5939)
(5220,5939)(5340,5939)(5460,5939)(5580,5939)(5700,5939)(5820,5939)(5940,5939)(6060,5939)
(6180,5939)(6300,5939)(6420,5939)(6540,5939)(6860,5939)(6980,5939)(7100,5939)(7220,5939)
(7340,5939)(7460,5939)(7580,5939)(7700,5939)(7950,5939)(8010,5939)(8070,5939)(8130,5939)
(8190,5939)(8250,5939)(8310,5939)(8370,5939)(8430,5939)(8490,5939)(8550,5939)(8610,5939)
(8670,5939)(8730,5939)(8790,5939)(8850,5939)(8910,5939)(8970,5939)(9030,5939)(9090,5939)
(9150,5939)(9210,5939)(9270,5939)(9330,5939)(9390,5939)(9450,5939)(9510,5939)(9570,5939)
(9630,5939)(9690,5939)(9750,5939)(9810,5939)};
% 5938
\addplot[samp, forget plot] coordinates {
(0,5938)(60,5938)(120,5938)(180,5938)(240,5938)(300,5938)(360,5938)(420,5938)(480,5938)
(540,5938)(600,5938)(660,5938)(720,5938)(820,5938)
(900,5938)(960,5938)(1020,5938)(1080,5938)(1140,5938)(1200,5938)(1260,5938)(1320,5938)
(1380,5938)(1427,5938)(1480,5938)(1540,5938)(1600,5938)(1660,5938)(1720,5938)(1780,5938)
(1832,5938)(1885,5938)(1940,5938)(2000,5938)(2060,5938)(2120,5938)(2180,5938)(2238,5938)
(2286,5938)(2340,5938)(2400,5938)(2460,5938)(2520,5938)(2580,5938)(2640,5938)(2700,5938)
(2760,5938)(2820,5938)(2880,5938)(2950,5938)(3020,5938)(3090,5938)(3160,5938)(3230,5938)
(3300,5938)(3370,5938)(3440,5938)(3514,5938)(3587,5938)
(3830,5938)(3880,5938)(3940,5938)(4000,5938)(4080,5938)(4160,5938)(4240,5938)(4325,5938)
(4440,5938)(4500,5938)(4560,5938)(4620,5938)(4680,5938)(4740,5938)(4800,5938)(4860,5938)
(4920,5938)(4980,5938)(5040,5938)(5100,5938)(5160,5938)(5220,5938)(5280,5938)(5340,5938)
(5400,5938)(5460,5938)(5520,5938)(5580,5938)(5640,5938)(5700,5938)(5760,5938)(5820,5938)
(5880,5938)(5940,5938)(6000,5938)(6060,5938)(6120,5938)(6180,5938)(6240,5938)(6300,5938)
(6360,5938)(6420,5938)(6480,5938)(6540,5938)(6600,5938)(6660,5938)(6720,5938)(6780,5938)
(6840,5938)(6900,5938)(6960,5938)(7020,5938)(7080,5938)(7140,5938)(7200,5938)(7243,5938)
(7280,5938)(7340,5938)(7400,5938)(7460,5938)(7520,5938)(7567,5938)
(7610,5938)(7670,5938)(7720,5938)(7770,5938)
(7830,5938)(7890,5938)(7950,5938)(8010,5938)(8070,5938)(8130,5938)(8190,5938)(8250,5938)
(8310,5938)(8370,5938)(8430,5938)(8490,5938)(8550,5938)(8610,5938)(8670,5938)(8730,5938)
(8790,5938)(8850,5938)(8910,5938)(8970,5938)(9030,5938)(9090,5938)(9150,5938)(9210,5938)
(9270,5938)(9330,5938)(9390,5938)(9450,5938)(9510,5938)(9570,5938)(9630,5938)(9690,5938)
(9750,5938)(9810,5938)(9850,5938)};
\addplot[samp, forget plot] coordinates {
(30,5938)(150,5938)(270,5938)(390,5938)(510,5938)(630,5938)(930,5938)(1050,5938)(1170,5938)
(1290,5938)(1510,5938)(1630,5938)(1750,5938)(1970,5938)(2090,5938)(2210,5938)(2370,5938)
(2490,5938)(2610,5938)(2730,5938)(4470,5938)(4590,5938)(4710,5938)(4830,5938)(5610,5938)
(5670,5938)(5730,5938)(5790,5938)(5850,5938)(5910,5938)(5970,5938)(6030,5938)(6090,5938)
(6330,5938)(6450,5938)(6570,5938)(6690,5938)(7860,5938)(7980,5938)(8100,5938)(8220,5938)
(8340,5938)(8460,5938)(8580,5938)(8700,5938)(8820,5938)(8940,5938)(9060,5938)(9180,5938)
(9300,5938)(9420,5938)(9540,5938)(9660,5938)(9780,5938)};
% 5937
\addplot[samp, forget plot] coordinates {
(17,5937)(60,5937)(110,5937)(150,5937)(446,5937)(779,5937)
(900,5937)(950,5937)(1000,5937)(1050,5937)(1100,5937)(1150,5937)(1200,5937)(1250,5937)
(1300,5937)(1387,5937)
(1577,5937)(1630,5937)(1690,5937)(1750,5937)(1820,5937)(1880,5937)(1942,5937)
(2076,5937)(2136,5937)(2258,5937)(2380,5937)(2420,5937)
(2542,5937)(2580,5937)(2620,5937)(2660,5937)(2700,5937)(2740,5937)(2780,5937)(2825,5937)
(2927,5937)(2988,5937)(3109,5937)(3222,5937)(3320,5937)(3563,5937)(3697,5937)(3920,5937)
(4285,5937)(4330,5937)(4366,5937)(4487,5937)(4550,5937)(4609,5937)(4670,5937)
(4710,5937)(4760,5937)(4811,5937)(4860,5937)(4920,5937)(4970,5937)(5034,5937)
(5115,5937)(5160,5937)(5196,5937)
(5277,5937)(5330,5937)(5385,5937)(5440,5937)(5495,5937)(5550,5937)(5605,5937)(5660,5937)
(5715,5937)(5770,5937)(5825,5937)(5880,5937)(5935,5937)(5990,5937)(6045,5937)(6100,5937)
(6155,5937)(6210,5937)(6265,5937)(6320,5937)(6375,5937)(6430,5937)(6485,5937)(6540,5937)
(6595,5937)(6675,5937)
(7000,5937)(7050,5937)(7110,5937)(7170,5937)(7230,5937)(7290,5937)(7344,5937)
(7405,5937)(7460,5937)(7527,5937)(7648,5937)(7700,5937)(7750,5937)
(7883,5937)(7940,5937)(8000,5937)(8060,5937)(8120,5937)(8180,5937)(8240,5937)(8300,5937)(8386,5937)
(8491,5937)(8550,5937)(8610,5937)(8670,5937)(8730,5937)(8790,5937)(8850,5937)(8910,5937)
(8970,5937)(9030,5937)(9090,5937)(9150,5937)(9208,5937)
(9261,5937)(9320,5937)(9380,5937)(9440,5937)(9500,5937)(9560,5937)(9620,5937)(9680,5937)
(9740,5937)(9800,5937)(9850,5937)};
% 5936
\addplot[samp, forget plot] coordinates {
(57,5936)(100,5936)(130,5936)(900,5936)(1050,5936)(1184,5936)(1215,5936)(1245,5936)
(1334,5936)(1488,5936)(1530,5936)(1570,5936)(1609,5936)(1731,5936)
(2522,5936)(2550,5936)(2580,5936)(2610,5936)(2640,5936)(2670,5936)(2704,5936)(2785,5936)
(3028,5936)(3445,5936)(4325,5936)(4519,5936)(4576,5936)(4610,5936)(4649,5936)
(4803,5936)(4850,5936)(4892,5936)(4930,5936)(4973,5936)(5168,5936)
(5269,5936)(5320,5936)(5380,5936)(5440,5936)(5500,5936)(5560,5936)(5622,5936)
(5646,5936)(5690,5936)(5723,5936)(5784,5936)(5840,5936)(5900,5936)(5960,5936)(6020,5936)
(6070,5936)(6108,5936)(6250,5936)(6300,5936)(6360,5936)(6420,5936)(6473,5936)
(6554,5936)(6675,5936)(6838,5936)(6992,5936)(7040,5936)(7090,5936)(7129,5936)(7425,5936)
(7668,5936)(7720,5936)(7770,5936)(7810,5936)
(7993,5936)(8040,5936)(8090,5936)(8140,5936)(8190,5936)(8230,5936)(8264,5936)(8366,5936)
(8540,5936)(8600,5936)(8660,5936)(8720,5936)(8780,5936)(8840,5936)(8900,5936)(8960,5936)
(9020,5936)(9080,5936)(9140,5936)(9208,5936)(9269,5936)(9320,5936)(9371,5936)
(9432,5936)(9470,5936)(9513,5936)(9553,5936)(9594,5936)
(9654,5936)(9700,5936)(9750,5936)(9796,5936)};
% 5935 .. 5933
\addplot[samp, forget plot] coordinates {
(1091,5935)(1164,5935)(1233,5935)(1293,5935)(1545,5935)(2550,5935)(2580,5935)(2610,5935)
(2640,5935)(2670,5935)(4475,5935)(4556,5935)(4629,5935)(4650,5935)(4718,5935)(4913,5935)
(4981,5935)(5508,5935)(5613,5935)(5678,5935)(5763,5935)(5946,5935)(5986,5935)(6140,5935)
(6254,5935)(6319,5935)(6440,5935)(6473,5935)(8126,5935)(8560,5935)(8600,5935)(8641,5935)
(8852,5935)(8945,5935)(8990,5935)(9047,5935)(9253,5935)(9504,5935)(9540,5935)(9580,5935)
(9610,5935)(9675,5935)};
\addplot[samp, forget plot] coordinates {
(1050,5934)(2542,5934)(2570,5934)(2600,5934)(2635,5934)(2683,5934)(6100,5934)(6148,5934)
(7405,5934)(7486,5934)(7660,5934)(8917,5934)(8945,5934)(8966,5934)(9277,5934)(9432,5934)
(9473,5934)(9525,5934)(9573,5934)};
\addplot[samp, forget plot] coordinates {
(1630,5933)(2554,5933)(4910,5933)(5541,5933)(5751,5933)(9561,5933)};
\addlegendimage{samp}
\addlegendentry{Samples\\{\itshape μ} = 5941.27, {\itshape σ} = 2.35}
\end{axis}
\path (-67.21pt,-41.92pt) rectangle (655.49pt,680.78pt);
\end{tikzpicture}
\end{document}
